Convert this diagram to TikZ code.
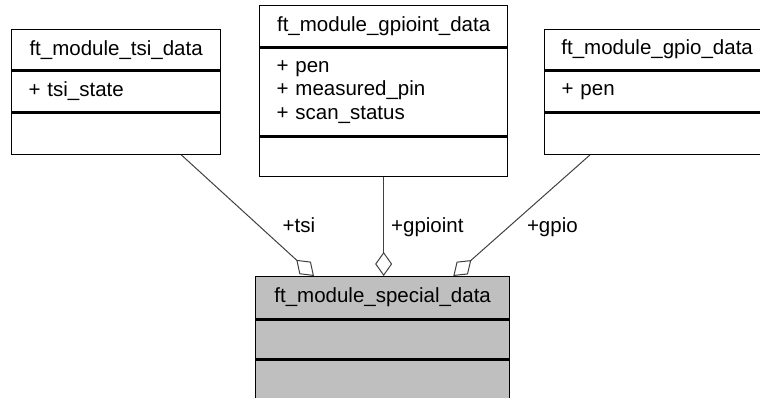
\documentclass[tikz,border=0pt]{standalone}
\usepackage{fontspec}
\setmainfont{Liberation Sans}
\usepackage{xcolor}
\usepackage{tikz}
\usetikzlibrary{arrows.meta, positioning, calc}

\definecolor{edgegray}{HTML}{404040}
\definecolor{boxgray}{HTML}{BFBFBF}

\begin{document}
\begin{tikzpicture}[
    x=1pt, y=-1pt,
    font=\fontsize{20.5}{23.5}\selectfont,
    classpart/.style={draw=black, line width=1.3pt, fill=white, inner sep=0pt,
      minimum height=#1},
    headpart/.style={classpart=#1, align=center},
    memberpart/.style={classpart=#1, inner xsep=17pt, align=left},
    aggr/.style={draw=edgegray, line width=1pt,
      -{Diamond[open, length=24pt, width=17pt]}},
    role/.style={inner sep=0pt, anchor=base west}
]
\useasboundingbox (0,0) rectangle (760,398);

% member classes
\node[headpart=40pt, minimum width=209pt, anchor=north west] (tsi) at (11,29) {ft\_module\_tsi\_data};
\node[memberpart=41pt, text width=175pt, below=0pt of tsi] (tsi attrs) {+ tsi\_state};
\node[memberpart=41pt, text width=175pt, below=0pt of tsi attrs] (tsi ops) {};

\node[headpart=41pt, minimum width=248pt, anchor=north west] (gpioint) at (259,5) {ft\_module\_gpioint\_data};
\node[memberpart=88pt, text width=214pt, below=0pt of gpioint] (gpioint attrs) {+ pen\\+ measured\_pin\\+ scan\_status};
\node[memberpart=39pt, text width=214pt, below=0pt of gpioint attrs] (gpioint ops) {};

\node[headpart=40pt, minimum width=225pt, anchor=north west] (gpio) at (544,29) {ft\_module\_gpio\_data};
\node[memberpart=41pt, text width=191pt, below=0pt of gpio] (gpio attrs) {+ pen};
\node[memberpart=41pt, text width=191pt, below=0pt of gpio attrs] (gpio ops) {};

% aggregate
\node[headpart=42pt, minimum width=254pt, fill=boxgray, anchor=north west] (special) at (255,276) {ft\_module\_special\_data};
\node[classpart=39pt, minimum width=254pt, fill=boxgray, below=0pt of special] (special attrs) {};
\node[classpart=40pt, minimum width=254pt, fill=boxgray, below=0pt of special attrs] (special ops) {};

\draw[aggr] ($(tsi ops.south east)+(-40,0)$) -- node[role, pos=0.64, xshift=16pt] {+tsi} ($(special.north west)+(59,0)$);
\draw[aggr] (gpioint ops.south) -- node[role, pos=0.56, xshift=7pt] {+gpioint} (gpioint ops.south |- special.north);
\draw[aggr] ($(gpio ops.south west)+(46,0)$) -- node[role, pos=0.64, xshift=24pt] {+gpio} ($(special.north east)+(-57,0)$);
\end{tikzpicture}
\end{document}
